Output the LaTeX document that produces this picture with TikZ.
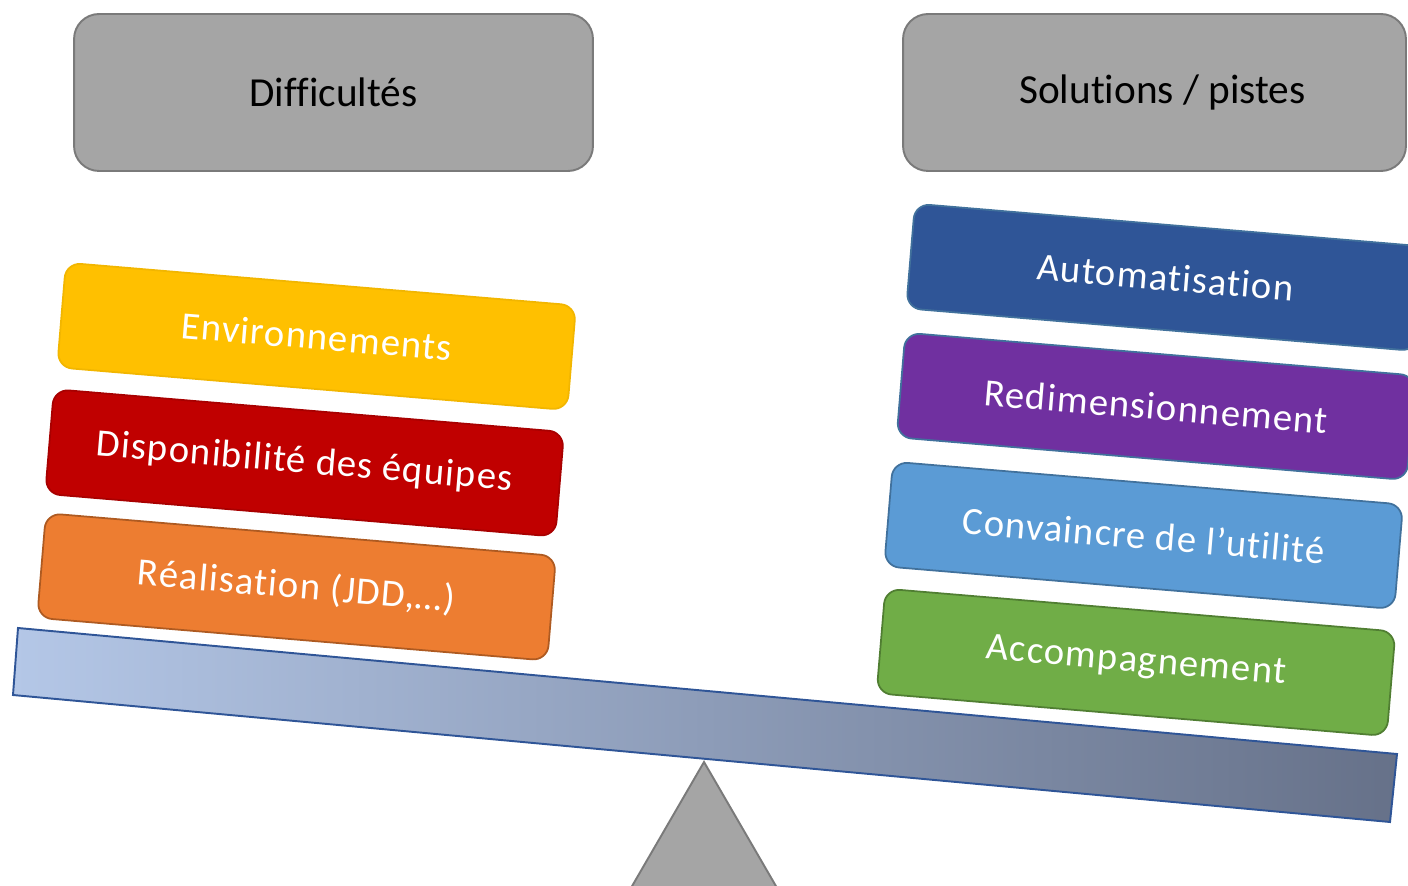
\documentclass[tikz,border=0pt]{standalone}
\usepackage{fontspec}
\setmainfont[Ligatures=NoCommon]{Carlito}
\definecolor{boxgray}{HTML}{A5A5A5}
\definecolor{boxgrayline}{HTML}{7A7A7A}
\definecolor{envyellow}{HTML}{FFC000}
\definecolor{envyellowline}{HTML}{F2B600}
\definecolor{dispred}{HTML}{C00000}
\definecolor{dispredline}{HTML}{A80000}
\definecolor{realorange}{HTML}{ED7D31}
\definecolor{realorangeline}{HTML}{AE5A21}
\definecolor{autoblue}{HTML}{2F5597}
\definecolor{redimpurple}{HTML}{7030A0}
\definecolor{convblue}{HTML}{5B9BD5}
\definecolor{accgreen}{HTML}{70AD47}
\definecolor{accgreenline}{HTML}{507E32}
\definecolor{solline}{HTML}{41719C}
\definecolor{beamleft}{HTML}{B4C7E7}
\definecolor{beamright}{HTML}{667189}
\definecolor{beamline}{HTML}{2F5597}
\newfontfamily\weightfont[LetterSpace=3, Ligatures=NoCommon]{Carlito}
\begin{document}
\begin{tikzpicture}[x=0.02cm, y=-0.02cm,
  title/.style={rectangle, rounded corners=0.5cm, fill=boxgray, draw=boxgrayline,
    line width=1.1pt, minimum height=3.14cm, font=\fontsize{23.5}{28}\selectfont},
  weight/.style={rectangle, rounded corners=0.3cm, line width=1pt, rotate=-4.8,
    minimum width=10.24cm, minimum height=2.1cm, text=white,
    font=\weightfont\fontsize{22}{26}\selectfont},
  beam/.style={draw=beamline, line width=1.1pt, left color=beamleft, right color=beamright},
  fulcrum/.style={fill=boxgray, draw=boxgrayline, line width=1.1pt}]
\useasboundingbox (0,0) rectangle (1408,885);
\clip (0,0) rectangle (1408,885);
% titles
\node[title, minimum width=10.38cm] (diff) at (333.5, 92.5) {Difficultés};
\node[title, minimum width=10.06cm] (sol) at (1154.5, 92.5) {\hspace*{9pt}Solutions / pistes};
% fulcrum and beam
\coordinate (pivot) at (704, 762);
\draw[fulcrum] (pivot) -- (566, 1000) -- (842, 1000) -- cycle;
\draw[beam] (18, 628) -- (1397, 754) -- (1390, 822) -- (13, 695) -- cycle;
% difficulties
\node[weight, fill=envyellow, draw=envyellowline] (env) at (316.6, 336.4) {Environnements};
\node[weight, fill=dispred, draw=dispredline] (disp) at (304.6, 462.9) {Disponibilité des équipes};
\node[weight, fill=realorange, draw=realorangeline] (real) at (296.6, 586.9) {Réalisation (JDD,…)};
% solutions
\node[weight, fill=autoblue, draw=solline] (auto) at (1165.6, 277.4) {Automatisation};
\node[weight, fill=redimpurple, draw=solline] (redim) at (1156, 406.4) {Redimensionnement};
\node[weight, fill=convblue, draw=solline] (conv) at (1143.6, 535.4) {Convaincre de l’utilité};
\node[weight, fill=accgreen, draw=accgreenline] (acc) at (1136, 662.4) {Accompagnement};
\end{tikzpicture}
\end{document}
